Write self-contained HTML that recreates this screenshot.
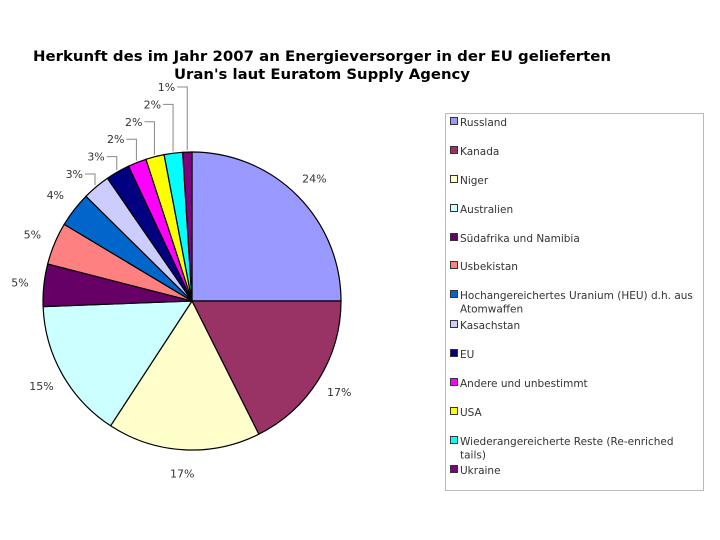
<!DOCTYPE html>
<html><head><meta charset="utf-8"><style>
html,body{margin:0;padding:0;background:#fff;}
svg{display:block;}
text{font-family:"DejaVu Sans","Liberation Sans",sans-serif;}
</style></head><body>
<svg id="chart" width="720" height="540" viewBox="0 0 720 540">
<text x="322" y="61" text-anchor="middle" font-size="14" font-weight="bold" textLength="578" lengthAdjust="spacingAndGlyphs">Herkunft des im Jahr 2007 an Energieversorger in der EU gelieferten</text>
<text x="322" y="79" text-anchor="middle" font-size="14" font-weight="bold" textLength="296" lengthAdjust="spacingAndGlyphs">Uran's laut Euratom Supply Agency</text>
<g id="slices"></g>
<g id="labels"></g>
<rect x="445.5" y="113.5" width="258" height="377" fill="none" stroke="#bbb"/>
<g id="legend"></g>
</svg>
<script>
const categories = ["Russland","Kanada","Niger","Australien","Südafrika und Namibia","Usbekistan","Hochangereichertes Uranium (HEU) d.h. aus|Atomwaffen","Kasachstan","EU","Andere und unbestimmt","USA","Wiederangereicherte Reste (Re-enriched|tails)","Ukraine"];
const values = [25.0,17.6,16.6,15.2,4.6,4.6,3.8,3.0,2.6,2.0,2.0,2.0,1.0];
const valueLabels = ["24%","17%","17%","15%","5%","5%","4%","3%","3%","2%","2%","2%","1%"];
const colors = ["#9999ff","#993366","#ffffcc","#ccffff","#660066","#ff8080","#0066cc","#ccccff","#000080","#ff00ff","#ffff00","#00ffff","#800080"];
const NS="http://www.w3.org/2000/svg";
const cx=192, cy=301, r=149;
const total=values.reduce((a,b)=>a+b,0);
function pt(a,rad){return [cx+rad*Math.sin(a), cy-rad*Math.cos(a)];}
const gS=document.getElementById('slices'), gL=document.getElementById('labels'), gLeg=document.getElementById('legend');
let acc=0;
values.forEach((v,i)=>{
  const a0=acc/total*2*Math.PI; acc+=v; const a1=acc/total*2*Math.PI;
  const p0=pt(a0,r), p1=pt(a1,r);
  const path=document.createElementNS(NS,'path');
  path.setAttribute('d',`M${cx},${cy}L${p0[0]},${p0[1]}A${r},${r} 0 ${a1-a0>Math.PI?1:0} 1 ${p1[0]},${p1[1]}Z`);
  path.setAttribute('fill',colors[i]); path.setAttribute('stroke','#000'); path.setAttribute('stroke-width','1.2');
  
  
  gS.appendChild(path);
  const am=(a0+a1)/2;
  const t=document.createElementNS(NS,'text');
  t.setAttribute('font-size','11'); t.setAttribute('fill','#333');
  if(i<7){
    const p=pt(am,r+24);
    t.setAttribute('x',p[0]); t.setAttribute('y',p[1]+4); t.setAttribute('text-anchor','middle');
  } else {
    const p=pt(am,r+2); const ly=174-(i-7)*17.4;
    const ln=document.createElementNS(NS,'polyline');
    ln.setAttribute('points',`${p[0]},${p[1]} ${p[0]},${ly} ${p[0]-10},${ly}`);
    ln.setAttribute('fill','none'); ln.setAttribute('stroke','#888');
    
    
    gL.appendChild(ln);
    t.setAttribute('x',p[0]-12); t.setAttribute('y',ly+4); t.setAttribute('text-anchor','end');
  }
  t.textContent=valueLabels[i];
  
  
  gL.appendChild(t);
});
const legY=[122,151,180,209,238,266,295,325,354,383,412,441,470];
categories.forEach((c,i)=>{
  const g=document.createElementNS(NS,'g');
  
  
  const s=document.createElementNS(NS,'rect');
  s.setAttribute('x',450.5); s.setAttribute('y',legY[i]-4.5); s.setAttribute('width',7); s.setAttribute('height',7);
  s.setAttribute('fill',colors[i]); s.setAttribute('stroke','#333');
  
  
  g.appendChild(s);
  c.split('|').forEach((part,j)=>{
    const t=document.createElementNS(NS,'text');
    t.setAttribute('x',460); t.setAttribute('y',legY[i]+4+j*13.5);
    t.setAttribute('font-size','10.5'); t.setAttribute('fill','#333');
    t.textContent=part;
    
    
    g.appendChild(t);
  });
  gLeg.appendChild(g);
});
</script>
</body></html>
